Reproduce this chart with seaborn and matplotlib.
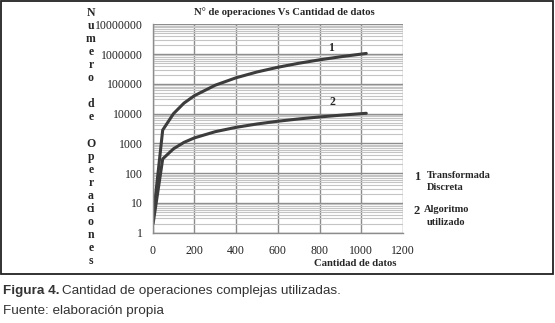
import pandas as pd
import numpy as np
import matplotlib
matplotlib.use("Agg")
import matplotlib.pyplot as plt
import matplotlib.ticker as mticker
from matplotlib.patches import Rectangle
import seaborn as sns

# datos
cantidad = [2, 48, 100, 150, 200, 300, 400, 500, 600, 700, 800, 900, 1024]
ops_dft = [3, 2800, 10000, 22500, 40000, 90000, 160000, 250000,
           360000, 490000, 640000, 810000, 1050000]
ops_alg = [2, 300, 660, 1080, 1530, 2470, 3460, 4480, 5540, 6620,
           7720, 8830, 10240]
x_ticks = [0, 200, 400, 600, 800, 1000, 1200]
y_ticks = [1, 10, 100, 1000, 10000, 100000, 1000000, 10000000]

sns.set_theme(style="white")
plt.rcParams['font.family'] = ['Liberation Serif', 'DejaVu Serif']

df = pd.DataFrame({
    'cantidad': cantidad * 2,
    'ops': ops_dft + ops_alg,
    'serie': ['1'] * len(cantidad) + ['2'] * len(cantidad),
})

fig = plt.figure(figsize=(5.55, 3.23), dpi=100)
ax = fig.add_axes([0.2751, 0.2796, 0.4510, 0.6452])

ax.set_yscale('log')
ax.set_xlim(0, 1200)
ax.set_ylim(1, 1e7)

# rejilla estilo Excel
ax.yaxis.set_minor_locator(mticker.LogLocator(base=10, subs=np.arange(2, 10)))
ax.grid(True, which='minor', axis='y', color='#c4c4c4', lw=0.8)
ax.grid(True, which='major', axis='y', color='#8c8c8c', lw=1.0)
ax.grid(True, which='major', axis='x', color='#8c8c8c', lw=1.0)
ax.set_axisbelow(True)

sns.lineplot(data=df, x='cantidad', y='ops', hue='serie', ax=ax,
             palette=['#3c3c3c', '#3c3c3c'], lw=2.2, legend=False)

ax.set_xticks(x_ticks)
ax.set_yticks(y_ticks)
ax.yaxis.set_major_formatter(mticker.FuncFormatter(lambda v, p: f"{int(round(v))}"))
ax.tick_params(axis='both', which='major', length=3, color='#8c8c8c',
               labelsize=8.5, labelcolor='#222222')
ax.tick_params(axis='x', which='major', pad=6)
ax.tick_params(axis='y', which='major', pad=4)
ax.tick_params(axis='y', which='minor', length=0)
ax.set_xlabel('')
ax.set_ylabel('')
for side in ['top', 'right']:
    ax.spines[side].set_visible(False)
for side in ['left', 'bottom']:
    ax.spines[side].set_color('#8c8c8c')
    ax.spines[side].set_linewidth(1.0)

# etiquetas de las curvas
ax.text(854, 1.6e6, '1', fontsize=8.5, fontweight='bold', ha='center', va='center')
ax.text(863, 2.5e4, '2', fontsize=8.5, fontweight='bold', ha='center', va='center')

W, H = 555, 323
fig.text(284 / W, 1 - 12 / H, 'N° de operaciones Vs Cantidad de datos',
         fontsize=7.7, fontweight='bold', ha='center', va='center')
fig.text(91 / W, 1 - 137 / H,
         'N\nu\nm\ne\nr\no\n\nd\ne\n\nO\np\ne\nr\na\nci\no\nn\ne\ns',
         fontsize=8.5, fontweight='bold', ha='center', va='center', linespacing=1.12)
fig.text(397 / W, 1 - 264 / H, 'Cantidad de datos', fontsize=7.7,
         fontweight='bold', ha='right', va='center')
fig.text(414 / W, 1 - 177 / H, '1', fontsize=9, fontweight='bold', ha='left', va='center')
fig.text(427 / W, 1 - 176 / H, 'Transformada', fontsize=7.5, fontweight='bold', ha='left', va='center')
fig.text(427 / W, 1 - 188 / H, 'Discreta', fontsize=7.5, fontweight='bold', ha='left', va='center')
fig.text(414 / W, 1 - 211 / H, '2', fontsize=9, fontweight='bold', ha='left', va='center')
fig.text(424 / W, 1 - 210 / H, 'Algoritmo', fontsize=7.5, fontweight='bold', ha='left', va='center')
fig.text(427 / W, 1 - 222.5 / H, 'utilizado', fontsize=7.5, fontweight='bold', ha='left', va='center')

# marco alrededor del grafico
fig.patches.append(Rectangle((1.2 / W, 1 - 274 / H), (553.3 - 1.2) / W, (274 - 1) / H,
                             transform=fig.transFigure, fill=False,
                             edgecolor='#222222', lw=1.3))

# pie de figura
sans = ['Liberation Sans', 'DejaVu Sans']
fig.text(3 / W, 1 - 291 / H, 'Figura 4.', family=sans, fontsize=9.7,
         fontweight='bold', color='#333333', ha='left', va='center')
fig.text(62 / W, 1 - 291 / H, 'Cantidad de operaciones complejas utilizadas.',
         family=sans, fontsize=9.7, color='#333333', ha='left', va='center')
fig.text(3 / W, 1 - 311 / H, 'Fuente: elaboración propia', family=sans,
         fontsize=9.7, color='#333333', ha='left', va='center')

fig.savefig('out.png', dpi=100)
plt.close(fig)
